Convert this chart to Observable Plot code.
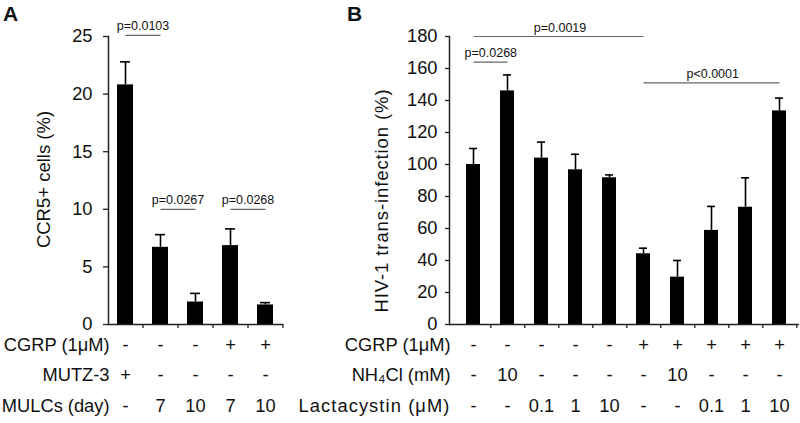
<!DOCTYPE html>
<html><head><meta charset="utf-8">
<script src="https://cdn.jsdelivr.net/npm/d3@7"></script>
<script src="https://cdn.jsdelivr.net/npm/@observablehq/plot@0.6"></script>
<style>
body{margin:0;background:#fff;}
#wrap{position:relative;width:800px;height:423px;font-family:"Liberation Sans",Arial,sans-serif;color:#111;}
#a,#b{position:absolute;top:0;}
#a{left:0;} #b{left:290px;}
.lbl{position:absolute;font-weight:bold;font-size:21px;line-height:1;}
</style></head><body>
<div id="wrap"><div id="a"></div><div id="b"></div>
<div class="lbl" style="left:3px;top:3px">A</div><div class="lbl" style="left:347px;top:3px">B</div></div>
<script>
// ---------- Panel A data ----------
const catsA = ["MUTZ-3", "MULC d7", "MULC d10", "CGRP MULC d7", "CGRP MULC d10"];
const valuesA = [20.8, 6.7, 1.95, 6.85, 1.7];
const errorsA = [2.0, 1.1, 0.75, 1.45, 0.2];
const yTicksA = [0, 5, 10, 15, 20, 25];
const rowLabelsA = ["CGRP (1\u03bcM)", "MUTZ-3", "MULCs (day)"];
const rowCgrpA = ["-", "-", "-", "+", "+"];
const rowMutzA = ["+", "-", "-", "-", "-"];
const rowMulcA = ["-", "7", "10", "7", "10"];
const bracketFromA = [0, 1, 3];
const bracketToA = [1, 2, 4];
const bracketYA = [25.1, 10, 10];
const bracketTextA = ["p=0.0103", "p=0.0267", "p=0.0268"];

// ---------- Panel B data ----------
const catsB = ["ctrl", "NH4Cl", "Lac 0.1", "Lac 1", "Lac 10", "CGRP", "CGRP NH4Cl", "CGRP Lac 0.1", "CGRP Lac 1", "CGRP Lac 10"];
const valuesB = [100, 146, 104, 96.7, 91.7, 44.2, 29.6, 58.8, 73.3, 133.5];
const errorsB = [10, 10, 10, 9.7, 1.8, 3.5, 10.4, 15, 18.4, 8];
const yTicksB = [0, 20, 40, 60, 80, 100, 120, 140, 160, 180];
const rowLabelsB = ["CGRP (1\u03bcM)", "NH\u2084Cl (mM)", "Lactacystin (\u03bcM)"];
const rowCgrpB = ["-", "-", "-", "-", "-", "+", "+", "+", "+", "+"];
const rowNh4B = ["-", "10", "-", "-", "-", "-", "10", "-", "-", "-"];
const rowLacB = ["-", "-", "0.1", "1", "10", "-", "-", "0.1", "1", "10"];
const bracketFromB = [0, 0, 5];
const bracketToB = [1, 5, 9];
const bracketYB = [164, 180, 151];
const bracketTextB = ["p=0.0268", "p=0.0019", "p<0.0001"];

function panel(cfg) {
  const H = 423, mt = 36, mb = 99;
  const {cats, values, errors, rows, rowLabels, bFrom, bTo, bY, bText, yTicks, yMax, yLabel,
         width, marginLeft, marginRight, insetLeft, padding, tickSize, tickPadding, labelX, labelDy} = cfg;
  const data = cats.map((c, i) => ({c, v: values[i], e: values[i] + errors[i]}));
  const brackets = bFrom.map((a, i) => ({a: cats[a], b: cats[bTo[i]], n: bTo[i] - a, y: bY[i], t: bText[i]}));
  const step = (width - marginLeft - marginRight - insetLeft) / cats.length;
  const pxPerUnit = (H - mt - mb) / yMax;
  const rowDy = [26, 56, 87];
  const marks = [
    Plot.barY(data, {x: "c", y: "v", fill: "#000"}),
    Plot.ruleX(data, {x: "c", y1: "v", y2: "e", stroke: "#000", strokeWidth: 1.6}),
    Plot.tickY(data, {x: "c", y: "e", stroke: "#000", strokeWidth: 1.6, insetLeft: 3, insetRight: 3}),
    Plot.ruleY([0], {stroke: "#222", strokeWidth: 1.5}),
    Plot.frame({anchor: "left", stroke: "#222", strokeWidth: 1.5}),
    Plot.ruleX(cats, {x: d => d, y1: 0, y2: -4 / pxPerUnit, dx: step / 2, stroke: "#222", strokeWidth: 1.3}),
    Plot.axisY({ticks: yTicks, tickSize, tickPadding, label: null, stroke: "#222", strokeWidth: 1.3, fill: "#111"}),
    Plot.link(brackets, {x1: "a", x2: "b", y1: "y", y2: "y", stroke: "#666", strokeWidth: 1.2}),
    ...brackets.map(d => Plot.text([d], {x: "a", y: "y", text: "t", dx: d.n * step / 2, dy: -9, fontSize: 12.5, fill: "#111"})),
    Plot.text([yLabel], {frameAnchor: "left", textAnchor: "middle", rotate: -90, dx: -(marginLeft - labelX), dy: labelDy, fontSize: 18.5, fill: "#111"}),
    ...rows.map((r, k) => Plot.text(cats, {x: d => d, text: (d, i) => r[i], frameAnchor: "bottom", dy: rowDy[k], fill: "#111"})),
    ...rowLabels.map((t, k) => Plot.text([t], {frameAnchor: "bottom-left", dx: 1, dy: rowDy[k], textAnchor: "end", fill: "#111"}))
  ];
  const svg = Plot.plot({
    width, height: H, marginTop: mt, marginBottom: mb, marginLeft, marginRight,
    x: {domain: cats, axis: null, paddingInner: padding, paddingOuter: padding / 2, align: 0.5, insetLeft},
    y: {domain: [0, yMax]},
    style: {fontFamily: "'Liberation Sans', Arial, sans-serif", fontSize: "18.3px", background: "transparent", overflow: "visible", color: "#111"},
    marks
  });
  // the reference typeface sets lowercase-heavy labels wider
  const spaced = {"HIV-1 trans-infection (%)": "0.9px", "Lactacystin (\u03bcM)": "1.1px"};
  d3.select(svg).selectAll("text").each(function () {
    const ls = spaced[this.textContent];
    if (ls) d3.select(this).attr("letter-spacing", ls);
  });
  return svg;
}

document.getElementById("a").appendChild(panel({
  cats: catsA, values: valuesA, errors: errorsA, rows: [rowCgrpA, rowMutzA, rowMulcA], rowLabels: rowLabelsA,
  bFrom: bracketFromA, bTo: bracketToA, bY: bracketYA, bText: bracketTextA,
  yTicks: yTicksA, yMax: 25, yLabel: "CCR5+ cells (%)",
  width: 290, marginLeft: 108, marginRight: 7, insetLeft: 0, padding: 0.54,
  tickSize: 5, tickPadding: 11, labelX: 43.5, labelDy: -1
}));
document.getElementById("b").appendChild(panel({
  cats: catsB, values: valuesB, errors: errorsB, rows: [rowCgrpB, rowNh4B, rowLacB], rowLabels: rowLabelsB,
  bFrom: bracketFromB, bTo: bracketToB, bY: bracketYB, bText: bracketTextB,
  yTicks: yTicksB, yMax: 180, yLabel: "HIV-1 trans-infection (%)",
  width: 510, marginLeft: 159, marginRight: 1, insetLeft: 4, padding: 0.58,
  tickSize: 4, tickPadding: 8, labelX: 92, labelDy: 20
}));
</script>
</body></html>
